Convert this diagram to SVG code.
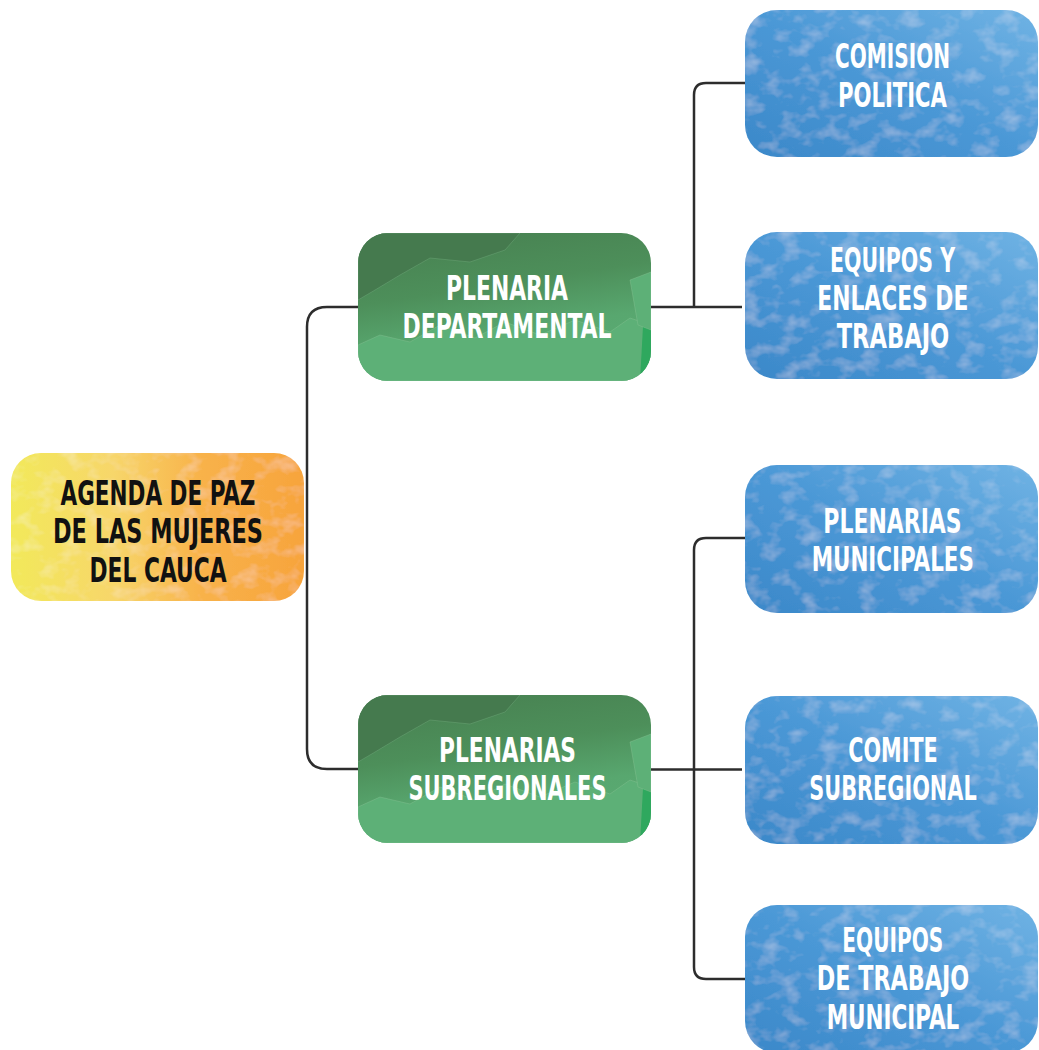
<svg xmlns="http://www.w3.org/2000/svg" width="1039" height="1050" viewBox="0 0 1039 1050">
  <defs>
    <linearGradient id="gRoot" x1="0" y1="0" x2="1" y2="0">
      <stop offset="0" stop-color="#f2e95a"/>
      <stop offset="0.35" stop-color="#f7d66a"/>
      <stop offset="0.65" stop-color="#f8b24a"/>
      <stop offset="1" stop-color="#f7a43c"/>
    </linearGradient>
    <linearGradient id="gGreen" x1="0" y1="0" x2="0.3" y2="1">
      <stop offset="0" stop-color="#477f50"/>
      <stop offset="0.45" stop-color="#4d8f5a"/>
      <stop offset="0.75" stop-color="#58a76f"/>
      <stop offset="1" stop-color="#5aab73"/>
    </linearGradient>
    <linearGradient id="gBlue" x1="0" y1="1" x2="1" y2="0">
      <stop offset="0" stop-color="#3b88c9"/>
      <stop offset="0.5" stop-color="#4b98d6"/>
      <stop offset="1" stop-color="#70b3e4"/>
    </linearGradient>
    <filter id="tex" x="0" y="0" width="100%" height="100%">
      <feTurbulence type="fractalNoise" baseFrequency="0.05 0.07" numOctaves="3" seed="7" result="n"/>
      <feColorMatrix in="n" type="matrix" values="0 0 0 0 1  0 0 0 0 1  0 0 0 0 1  0 0 0 0.5 -0.24" result="w"/>
      <feComposite in="w" in2="SourceAlpha" operator="in" result="wt"/>
      <feMerge><feMergeNode in="SourceGraphic"/><feMergeNode in="wt"/></feMerge>
    </filter>
    <clipPath id="cG1"><rect x="358" y="233" width="293" height="148" rx="30"/></clipPath>
    <clipPath id="cG2"><rect x="358" y="695" width="293" height="148" rx="30"/></clipPath>
  </defs>
  <style>
    .conn { fill: none; stroke: #2d2d2d; stroke-width: 2.5; }
    .lbl { font-family: "DejaVu Sans Condensed", "Liberation Sans", sans-serif; font-weight: bold; font-size: 30px; text-anchor: middle; }
    .w { fill: #ffffff; }
    .k { fill: #111111; }
    .patch { fill: #5db077; stroke: #8fc79a; stroke-width: 0.6; stroke-opacity: 0.6; }
    .dark { fill: #457a4e; stroke: #7cb486; stroke-width: 0.6; stroke-opacity: 0.6; }
  </style>

  <g id="connectors">
    <path class="conn" d="M358 307 H327 Q307 307 307 327 V749 Q307 769 327 769 H358"/>
    <path class="conn" d="M651 307 H742"/>
    <path class="conn" d="M745 83 H706 Q694 83 694 95 V307"/>
    <path class="conn" d="M651 769.5 H742"/>
    <path class="conn" d="M745 538 H706 Q694 538 694 550 V967 Q694 979 706 979 H745"/>
  </g>

  <g id="root">
    <rect x="11" y="453" width="293" height="148" rx="30" fill="url(#gRoot)" filter="url(#tex)"/>
    <text class="lbl k" x="158" y="0" transform="translate(0 505) scale(1 1.14)" textLength="195" lengthAdjust="spacingAndGlyphs">AGENDA DE PAZ</text>
    <text class="lbl k" x="158" y="0" transform="translate(0 543) scale(1 1.14)" textLength="210" lengthAdjust="spacingAndGlyphs">DE LAS MUJERES</text>
    <text class="lbl k" x="158" y="0" transform="translate(0 581.5) scale(1 1.14)" textLength="137" lengthAdjust="spacingAndGlyphs">DEL CAUCA</text>
  </g>

  <g id="plenaria-departamental">
    <rect x="358" y="233" width="293" height="148" rx="30" fill="url(#gGreen)"/>
    <g clip-path="url(#cG1)">
      <path class="dark" d="M358 233 H520 L505 250 L470 262 L430 258 L400 275 L375 290 L358 300 Z"/>
      <path class="patch" d="M358 345 L380 335 L410 342 L440 325 L475 338 L505 322 L540 335 L575 320 L610 332 L630 318 L651 325 V381 H358 Z"/>
      <path fill="#2fa85e" d="M645 290 L651 285 V381 H640 Z"/>
      <path class="patch" d="M630 280 L651 272 V330 L638 325 Z"/>
    </g>
    <text class="lbl w" x="507" y="0" transform="translate(0 300) scale(1 1.14)" textLength="122" lengthAdjust="spacingAndGlyphs">PLENARIA</text>
    <text class="lbl w" x="507" y="0" transform="translate(0 338.3) scale(1 1.14)" textLength="209" lengthAdjust="spacingAndGlyphs">DEPARTAMENTAL</text>
  </g>

  <g id="plenarias-subregionales">
    <rect x="358" y="695" width="293" height="148" rx="30" fill="url(#gGreen)"/>
    <g clip-path="url(#cG2)">
      <path class="dark" d="M358 695 H520 L505 712 L470 724 L430 720 L400 737 L375 752 L358 762 Z"/>
      <path class="patch" d="M358 807 L380 797 L410 804 L440 787 L475 800 L505 784 L540 797 L575 782 L610 794 L630 780 L651 787 V843 H358 Z"/>
      <path fill="#2fa85e" d="M645 752 L651 747 V843 H640 Z"/>
      <path class="patch" d="M630 742 L651 734 V792 L638 787 Z"/>
    </g>
    <text class="lbl w" x="507.5" y="0" transform="translate(0 761.7) scale(1 1.14)" textLength="137" lengthAdjust="spacingAndGlyphs">PLENARIAS</text>
    <text class="lbl w" x="507.5" y="0" transform="translate(0 800) scale(1 1.14)" textLength="198" lengthAdjust="spacingAndGlyphs">SUBREGIONALES</text>
  </g>

  <g id="comision-politica">
    <rect x="745" y="10" width="293" height="147" rx="32" fill="url(#gBlue)" filter="url(#tex)"/>
    <text class="lbl w" x="892.5" y="0" transform="translate(0 68.3) scale(1 1.14)" textLength="115" lengthAdjust="spacingAndGlyphs">COMISION</text>
    <text class="lbl w" x="892.5" y="0" transform="translate(0 106.7) scale(1 1.14)" textLength="109" lengthAdjust="spacingAndGlyphs">POLITICA</text>
  </g>

  <g id="equipos-enlaces">
    <rect x="745" y="232" width="293" height="147" rx="32" fill="url(#gBlue)" filter="url(#tex)"/>
    <text class="lbl w" x="892.5" y="0" transform="translate(0 271.7) scale(1 1.14)" textLength="125" lengthAdjust="spacingAndGlyphs">EQUIPOS Y</text>
    <text class="lbl w" x="892.8" y="0" transform="translate(0 310) scale(1 1.14)" textLength="151" lengthAdjust="spacingAndGlyphs">ENLACES DE</text>
    <text class="lbl w" x="893" y="0" transform="translate(0 348.3) scale(1 1.14)" textLength="112.6" lengthAdjust="spacingAndGlyphs">TRABAJO</text>
  </g>

  <g id="plenarias-municipales">
    <rect x="745" y="465" width="293" height="148" rx="32" fill="url(#gBlue)" filter="url(#tex)"/>
    <text class="lbl w" x="892.5" y="0" transform="translate(0 532.7) scale(1 1.14)" textLength="138.4" lengthAdjust="spacingAndGlyphs">PLENARIAS</text>
    <text class="lbl w" x="892.8" y="0" transform="translate(0 570.7) scale(1 1.14)" textLength="162.3" lengthAdjust="spacingAndGlyphs">MUNICIPALES</text>
  </g>

  <g id="comite-subregional">
    <rect x="745" y="696" width="293" height="148" rx="32" fill="url(#gBlue)" filter="url(#tex)"/>
    <text class="lbl w" x="893" y="0" transform="translate(0 761.7) scale(1 1.14)" textLength="89.4" lengthAdjust="spacingAndGlyphs">COMITE</text>
    <text class="lbl w" x="893" y="0" transform="translate(0 800) scale(1 1.14)" textLength="167.4" lengthAdjust="spacingAndGlyphs">SUBREGIONAL</text>
  </g>

  <g id="equipos-trabajo-municipal">
    <rect x="745" y="905" width="293" height="148" rx="32" fill="url(#gBlue)" filter="url(#tex)"/>
    <text class="lbl w" x="892.8" y="0" transform="translate(0 951.7) scale(1 1.14)" textLength="101" lengthAdjust="spacingAndGlyphs">EQUIPOS</text>
    <text class="lbl w" x="893" y="0" transform="translate(0 990) scale(1 1.14)" textLength="152.6" lengthAdjust="spacingAndGlyphs">DE TRABAJO</text>
    <text class="lbl w" x="893" y="0" transform="translate(0 1029.3) scale(1 1.14)" textLength="132.6" lengthAdjust="spacingAndGlyphs">MUNICIPAL</text>
  </g>
</svg>
